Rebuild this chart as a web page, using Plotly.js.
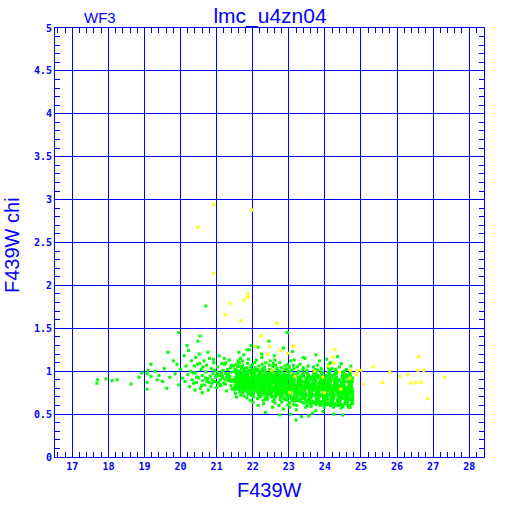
<!DOCTYPE html>
<html>
<head>
<meta charset="utf-8">
<script src="https://cdn.plot.ly/plotly-3.0.1.min.js"></script>
<style>html,body{margin:0;padding:0;background:#fff;}#chart{width:512px;height:512px;}</style>
</head>
<body>
<div id="chart"></div>
<script>
// ---- data ----
const xTickVals = [17,18,19,20,21,22,23,24,25,26,27,28];
const yTickVals = [0,0.5,1,1.5,2,2.5,3,3.5,4,4.5,5];
const yTickText = ["0","0.5","1","1.5","2","2.5","3","3.5","4","4.5","5"];

const greenX = [
// sparse left
17.68,17.70,17.93,18.10,18.24,18.63,18.85,19.07,19.10,19.18,
19.29,19.07,19.07,19.18,19.40,19.50,19.55,19.65,19.70,19.80,
19.85,19.90,19.95,19.95,20.00,20.05,20.10,20.12,20.15,20.20,
20.22,20.25,20.28,20.30,20.32,20.35,20.38,20.40,20.42,20.45,
20.48,20.54,20.70,22.97,23.20,19.62,19.35,18.92,20.18,20.36,
// medium
20.41,20.44,20.47,20.50,20.52,20.55,20.57,20.60,20.62,20.65,
20.67,20.70,20.72,20.75,20.77,20.80,20.82,20.85,20.87,20.90,
20.92,20.95,20.97,21.00,21.02,21.05,21.07,21.10,21.12,21.15,
21.17,21.20,21.22,21.25,21.27,21.30,21.32,21.35,21.37,21.40,
21.42,21.45,21.47,20.58,20.73,20.88,21.03,21.18,21.33,21.48,
20.46,20.63,20.79,20.94,21.08,21.23,21.38,20.53,20.69,20.84,
20.99,21.14,21.28,21.43,20.60,20.76,20.91,21.06,21.21,21.36,
21.01,21.09,21.16,21.24,21.31,21.39,21.46,21.13,21.26,21.41,
// dense
21.51,21.55,21.58,21.53,21.57,21.52,21.59,21.54,21.56,21.50,
21.56,21.52,21.59,21.54,21.50,21.57,21.53,21.58,21.51,21.55,
21.61,21.65,21.68,21.63,21.67,21.62,21.69,21.64,21.66,21.60,
21.66,21.62,21.69,21.64,21.60,21.67,21.63,21.68,21.61,21.65,
21.71,21.75,21.78,21.73,21.77,21.72,21.79,21.74,21.76,21.70,
21.76,21.72,21.79,21.74,21.70,21.77,21.73,21.78,21.71,21.75,
21.81,21.85,21.88,21.83,21.87,21.82,21.89,21.84,21.86,21.80,
21.86,21.82,21.89,21.84,21.80,21.87,21.83,21.88,21.81,21.85,
21.91,21.95,21.98,21.93,21.97,21.92,21.99,21.94,21.96,21.90,
21.96,21.92,21.99,21.94,21.90,21.97,21.93,21.98,21.91,21.95,
22.01,22.05,22.08,22.03,22.07,22.02,22.09,22.04,22.06,22.00,
22.06,22.02,22.09,22.04,22.00,22.07,22.03,22.08,22.01,22.05,
22.11,22.15,22.18,22.13,22.17,22.12,22.19,22.14,22.16,22.10,
22.16,22.12,22.19,22.14,22.10,22.17,22.13,22.18,22.11,22.15,
22.21,22.25,22.28,22.23,22.27,22.22,22.29,22.24,22.26,22.20,
22.26,22.22,22.29,22.24,22.20,22.27,22.23,22.28,22.21,22.25,
22.31,22.35,22.38,22.33,22.37,22.32,22.39,22.34,22.36,22.30,
22.36,22.32,22.39,22.34,22.30,22.37,22.33,22.38,22.31,22.35,
22.41,22.45,22.48,22.43,22.47,22.42,22.49,22.44,22.46,22.40,
22.46,22.42,22.49,22.44,22.40,22.47,22.43,22.48,22.41,22.45,
22.51,22.55,22.58,22.53,22.57,22.52,22.59,22.54,22.56,22.50,
22.56,22.52,22.59,22.54,22.50,22.57,22.53,22.58,22.51,22.55,
22.61,22.65,22.68,22.63,22.67,22.62,22.69,22.64,22.66,22.60,
22.66,22.62,22.69,22.64,22.60,22.67,22.63,22.68,22.61,22.65,
22.71,22.75,22.78,22.73,22.77,22.72,22.79,22.74,22.76,22.70,
22.76,22.72,22.79,22.74,22.70,22.77,22.73,22.78,22.71,22.75,
22.81,22.85,22.88,22.83,22.87,22.82,22.89,22.84,22.86,22.80,
22.86,22.82,22.89,22.84,22.80,22.87,22.83,22.88,22.81,22.85,
22.91,22.95,22.98,22.93,22.97,22.92,22.99,22.94,22.96,22.90,
22.96,22.92,22.99,22.94,22.90,22.97,22.93,22.98,22.91,22.95,
23.01,23.05,23.08,23.03,23.07,23.02,23.09,23.04,23.06,23.00,
23.06,23.02,23.09,23.04,23.00,23.07,23.03,23.08,23.01,23.05,
23.11,23.15,23.18,23.13,23.17,23.12,23.19,23.14,23.16,23.10,
23.16,23.12,23.19,23.14,23.10,23.17,23.13,23.18,23.11,23.15,
23.21,23.25,23.28,23.23,23.27,23.22,23.29,23.24,23.26,23.20,
23.26,23.22,23.29,23.24,23.20,23.27,23.23,23.28,23.21,23.25,
23.31,23.35,23.38,23.33,23.37,23.32,23.39,23.34,23.36,23.30,
23.36,23.32,23.39,23.34,23.30,23.37,23.33,23.38,23.31,23.35,
23.41,23.45,23.48,23.43,23.47,23.42,23.49,23.44,23.46,23.40,
23.46,23.42,23.49,23.44,23.40,23.47,23.43,23.48,23.41,23.45,
23.51,23.55,23.58,23.53,23.57,23.52,23.59,23.54,23.56,23.50,
23.56,23.52,23.59,23.54,23.50,23.57,23.53,23.58,23.51,23.55,
23.61,23.65,23.68,23.63,23.67,23.62,23.69,23.64,23.66,23.60,
23.66,23.62,23.69,23.64,23.60,23.67,23.63,23.68,23.61,23.65,
23.71,23.75,23.78,23.73,23.77,23.72,23.79,23.74,23.76,23.70,
23.76,23.72,23.79,23.74,23.70,23.77,23.73,23.78,23.71,23.75,
23.81,23.85,23.88,23.83,23.87,23.82,23.89,23.84,23.86,23.80,
23.86,23.82,23.89,23.84,23.80,23.87,23.83,23.88,23.81,23.85,
23.91,23.95,23.98,23.93,23.97,23.92,23.99,23.94,23.96,23.90,
23.96,23.92,23.99,23.94,23.90,23.97,23.93,23.98,23.91,23.95,
24.01,24.05,24.08,24.03,24.07,24.02,24.09,24.04,24.06,24.00,
24.06,24.02,24.09,24.04,24.00,24.07,24.03,24.08,24.01,24.05,
24.11,24.15,24.18,24.13,24.17,24.12,24.19,24.14,24.16,24.10,
24.16,24.12,24.19,24.14,24.10,24.17,24.13,24.18,24.11,24.15,
24.21,24.25,24.28,24.23,24.27,24.22,24.29,24.24,24.26,24.20,
24.26,24.22,24.29,24.24,24.20,24.27,24.23,24.28,24.21,24.25,
24.31,24.35,24.38,24.33,24.37,24.32,24.39,24.34,24.36,24.30,
24.36,24.32,24.39,24.34,24.30,24.37,24.33,24.38,24.31,24.35,
24.41,24.45,24.48,24.43,24.47,24.42,24.49,24.44,24.46,24.40,
24.46,24.42,24.49,24.44,24.40,24.47,24.43,24.48,24.41,24.45,
24.51,24.55,24.58,24.53,24.57,24.52,24.59,24.54,24.56,24.50,
24.56,24.52,24.59,24.54,24.50,24.57,24.53,24.58,24.51,24.55,
24.61,24.65,24.68,24.63,24.67,24.62,24.69,24.64,24.66,24.60,
24.66,24.62,24.69,24.64,24.60,24.67,24.63,24.68,24.61,24.65,
24.71,24.74,24.77,24.72,24.76,24.71,24.77,24.73,24.75,24.70,
24.75,24.72,24.77,24.73,24.70,24.76,24.72,24.77,24.71,24.74,
// outliers
21.62,21.95,22.25,22.60,22.85,23.10,23.40,23.75,24.05,24.35,
22.35,22.75,23.05,23.35,23.65,23.95,24.25,24.49,24.65,23.55,
22.95,23.15,21.85,22.45,23.85,24.15,24.45,22.15,23.45,24.72,
// dense core, second pass
21.53,21.58,21.51,21.56,21.54,21.59,21.52,21.57,21.55,21.50,
21.63,21.68,21.61,21.66,21.64,21.69,21.62,21.67,21.65,21.60,
21.73,21.78,21.71,21.76,21.74,21.79,21.72,21.77,21.75,21.70,
21.83,21.88,21.81,21.86,21.84,21.89,21.82,21.87,21.85,21.80,
21.93,21.98,21.91,21.96,21.94,21.99,21.92,21.97,21.95,21.90,
22.03,22.08,22.01,22.06,22.04,22.09,22.02,22.07,22.05,22.00,
22.13,22.18,22.11,22.16,22.14,22.19,22.12,22.17,22.15,22.10,
22.23,22.28,22.21,22.26,22.24,22.29,22.22,22.27,22.25,22.20,
22.33,22.38,22.31,22.36,22.34,22.39,22.32,22.37,22.35,22.30,
22.43,22.48,22.41,22.46,22.44,22.49,22.42,22.47,22.45,22.40,
22.53,22.58,22.51,22.56,22.54,22.59,22.52,22.57,22.55,22.50,
22.63,22.68,22.61,22.66,22.64,22.69,22.62,22.67,22.65,22.60,
22.73,22.78,22.71,22.76,22.74,22.79,22.72,22.77,22.75,22.70,
22.83,22.88,22.81,22.86,22.84,22.89,22.82,22.87,22.85,22.80,
22.93,22.98,22.91,22.96,22.94,22.99,22.92,22.97,22.95,22.90,
23.03,23.08,23.01,23.06,23.04,23.09,23.02,23.07,23.05,23.00,
23.13,23.18,23.11,23.16,23.14,23.19,23.12,23.17,23.15,23.10,
23.23,23.28,23.21,23.26,23.24,23.29,23.22,23.27,23.25,23.20,
23.33,23.38,23.31,23.36,23.34,23.39,23.32,23.37,23.35,23.30,
23.43,23.48,23.41,23.46,23.44,23.49,23.42,23.47,23.45,23.40,
23.53,23.58,23.51,23.56,23.54,23.59,23.52,23.57,23.55,23.50,
23.63,23.68,23.61,23.66,23.64,23.69,23.62,23.67,23.65,23.60,
23.73,23.78,23.71,23.76,23.74,23.79,23.72,23.77,23.75,23.70,
23.83,23.88,23.81,23.86,23.84,23.89,23.82,23.87,23.85,23.80,
23.93,23.98,23.91,23.96,23.94,23.99,23.92,23.97,23.95,23.90,
24.03,24.08,24.01,24.06,24.04,24.09,24.02,24.07,24.05,24.00,
24.13,24.18,24.11,24.16,24.14,24.19,24.12,24.17,24.15,24.10,
24.23,24.28,24.21,24.26,24.24,24.29,24.22,24.27,24.25,24.20,
24.33,24.38,24.31,24.36,24.34,24.39,24.32,24.37,24.35,24.30,
24.43,24.48,24.41,24.46,24.44,24.49,24.42,24.47,24.45,24.40,
24.53,24.58,24.51,24.56,24.54,24.59,24.52,24.57,24.55,24.50,
24.63,24.68,24.61,24.66,24.64,24.69,24.62,24.67,24.65,24.60,
24.73,24.77,24.71,24.76,24.74,24.77,24.72,24.75,24.75,24.70
];

const greenY = [
// sparse left
0.86,0.90,0.91,0.89,0.90,0.85,0.93,0.97,1.01,0.94,
1.00,0.79,0.87,1.08,0.95,0.88,1.03,1.22,0.93,1.12,
0.97,1.08,1.45,0.84,1.02,0.92,1.18,0.88,1.06,0.96,
1.24,0.82,1.00,1.12,0.90,0.98,1.06,0.78,1.16,0.93,
1.35,1.41,1.76,1.45,0.43,0.80,0.90,0.98,1.30,0.86,
// medium
0.98,0.87,1.08,0.92,1.20,0.80,1.02,0.95,0.89,1.12,
0.84,0.99,1.07,0.91,0.78,1.15,0.94,1.03,0.86,0.97,
1.10,0.88,0.93,0.81,1.05,0.96,1.18,0.90,0.84,1.00,
0.92,0.86,1.08,0.97,0.77,1.02,0.89,1.13,0.94,0.83,
0.99,0.90,1.06,0.83,0.88,0.90,0.86,1.01,0.97,0.88,
0.93,1.05,0.87,1.01,0.95,0.90,1.04,1.09,0.92,0.82,
0.95,1.09,0.93,0.79,0.75,1.22,1.14,0.87,1.15,0.91,
0.99,0.83,0.94,0.85,0.96,0.88,0.80,0.97,1.10,1.07,
// dense
0.92,0.80,1.05,0.87,0.97,0.74,1.12,0.90,0.84,1.00,
0.95,0.82,0.88,1.08,0.78,0.93,0.99,0.86,1.02,0.70,
0.86,0.98,0.79,1.10,0.91,0.84,1.03,0.76,0.95,0.89,
1.15,0.81,0.93,0.87,0.99,0.72,1.06,0.90,0.83,0.96,
0.94,0.83,1.01,0.77,0.89,1.07,0.86,0.92,0.71,0.98,
0.85,1.12,0.80,0.96,0.88,1.03,0.75,0.91,0.82,1.19,
0.81,0.95,0.87,1.04,0.73,0.90,0.99,0.84,1.09,0.78,
0.92,0.86,1.01,0.69,0.94,0.83,0.88,1.14,0.79,0.97,
0.90,0.76,1.02,0.85,0.97,0.81,1.08,0.88,0.72,0.93,
0.84,0.99,0.78,1.05,0.87,0.91,0.66,0.95,1.25,0.82,
0.83,0.96,0.79,0.89,1.04,0.74,0.92,0.86,1.10,0.80,
0.98,0.70,0.88,0.94,0.77,1.01,0.85,0.91,0.64,0.87,
0.88,0.75,0.99,0.82,1.06,0.91,0.78,0.95,0.85,1.13,
0.72,0.90,0.80,1.02,0.87,0.93,0.68,0.97,0.84,0.60,
0.85,0.97,0.73,0.89,1.03,0.79,0.92,0.83,1.08,0.76,
0.94,0.87,0.66,1.00,0.81,0.90,0.71,0.96,0.86,1.16,
0.79,0.91,0.84,1.05,0.70,0.95,0.87,0.76,0.99,0.82,
1.10,0.88,0.74,0.93,0.62,0.85,1.01,0.80,0.90,0.68,
0.87,0.73,0.96,0.81,1.02,0.90,0.77,0.84,1.07,0.67,
0.92,0.79,0.98,0.86,0.71,0.94,0.83,1.12,0.75,0.89,
0.82,0.94,0.76,0.88,1.00,0.70,0.91,0.79,1.05,0.85,
0.65,0.97,0.81,0.89,0.73,1.09,0.86,0.77,0.93,0.58,
0.86,0.74,0.95,0.80,1.03,0.69,0.90,0.83,0.98,0.77,
0.92,0.63,0.87,1.07,0.79,0.94,0.72,0.84,1.13,0.81,
0.80,0.92,0.71,0.87,0.99,0.76,1.04,0.84,0.67,0.90,
0.78,0.95,0.83,0.73,1.01,0.88,0.60,0.93,0.81,1.10,
0.85,0.75,0.97,0.81,0.68,0.91,1.06,0.79,0.88,0.72,
0.94,0.83,1.02,0.77,0.64,0.89,0.86,0.74,0.99,0.56,
0.78,0.90,0.70,0.86,1.00,0.82,0.74,0.95,0.66,0.88,
1.08,0.80,0.93,0.72,0.84,1.03,0.77,0.61,0.91,0.85,
0.83,0.71,0.94,0.79,0.87,1.05,0.68,0.90,0.76,0.98,
0.81,0.63,0.92,0.86,0.74,1.01,0.58,0.88,0.80,1.12,
0.79,0.91,0.73,0.85,0.67,0.97,0.82,1.03,0.76,0.88,
0.70,0.94,0.84,0.61,0.89,0.78,1.07,0.81,0.93,0.65,
0.84,0.72,0.93,0.78,1.00,0.66,0.87,0.81,0.75,0.96,
0.89,0.60,0.83,1.05,0.77,0.92,0.70,0.86,0.55,0.98,
0.77,0.89,0.69,0.83,0.95,0.73,1.02,0.80,0.64,0.91,
0.86,0.75,0.98,0.81,0.67,0.88,0.93,0.71,1.08,0.79,
0.82,0.70,0.92,0.76,0.87,0.63,0.99,0.80,0.74,1.04,
0.85,0.68,0.90,0.78,0.96,0.58,0.83,0.72,0.94,0.88,
0.80,0.91,0.68,0.85,0.74,0.97,0.62,0.88,0.79,1.01,
0.71,0.93,0.83,0.66,0.89,0.76,1.06,0.82,0.60,0.95,
0.83,0.71,0.94,0.77,0.88,0.65,1.00,0.80,0.73,0.91,
0.86,0.59,0.97,0.79,0.69,0.90,0.75,1.05,0.84,0.63,
0.78,0.89,0.67,0.84,0.96,0.72,0.81,1.02,0.61,0.92,
0.75,0.87,0.70,0.99,0.82,0.64,0.93,0.77,0.85,0.54,
0.81,0.70,0.93,0.76,0.88,0.63,0.98,0.79,0.73,1.07,
0.84,0.66,0.91,0.78,0.95,0.60,0.86,0.72,1.01,0.82,
0.79,0.90,0.68,0.85,0.74,0.96,0.62,0.87,0.81,1.03,
0.71,0.93,0.76,0.65,0.89,0.83,0.99,0.58,0.92,0.77,
0.82,0.71,0.94,0.77,0.86,0.64,0.99,0.80,0.69,0.91,
0.85,0.74,1.04,0.61,0.88,0.78,0.95,0.67,0.83,0.73,
0.77,0.88,0.66,0.83,0.95,0.72,0.81,1.01,0.60,0.90,
0.75,0.86,0.69,0.97,0.80,0.63,0.92,0.78,1.08,0.84,
0.81,0.70,0.92,0.76,0.87,0.64,0.98,0.79,0.73,1.03,
0.84,0.67,0.90,0.58,0.94,0.82,0.71,0.86,0.62,0.96,
0.79,0.89,0.68,0.84,0.74,0.97,0.63,0.86,0.80,1.02,
0.72,0.93,0.77,0.66,0.88,0.83,0.99,0.60,0.91,0.75,
0.82,0.72,0.93,0.78,0.87,0.65,0.98,0.80,0.70,0.90,
0.85,0.61,0.95,0.76,1.05,0.68,0.83,0.74,0.89,0.57,
0.78,0.88,0.67,0.84,0.96,0.73,0.81,1.00,0.62,0.91,
0.76,0.86,0.70,0.94,0.80,0.64,0.90,0.77,0.85,0.69,
0.80,0.70,0.91,0.75,0.86,0.65,0.97,0.79,0.72,1.02,
0.83,0.68,0.89,0.60,0.93,0.81,0.74,0.87,0.63,0.95,
0.77,0.87,0.69,0.82,0.73,0.94,0.64,0.85,0.79,0.99,
0.71,0.90,0.76,0.84,0.67,0.88,0.81,0.92,0.74,0.62,
// outliers
1.22,1.30,1.20,1.18,1.27,1.23,1.16,1.19,1.14,1.17,
0.52,0.49,0.50,0.47,0.51,0.53,0.50,0.49,0.58,0.48,
1.45,1.13,1.25,1.35,1.12,1.10,1.09,1.28,1.15,1.06,
// dense core, second pass
0.89,0.96,0.83,0.93,1.01,0.86,0.91,0.79,0.98,0.88,
0.92,0.85,0.97,0.88,0.80,0.94,1.00,0.87,0.90,0.83,
0.87,0.95,0.81,0.90,0.99,0.84,0.93,0.78,0.89,1.04,
0.91,0.84,0.96,0.80,0.89,1.00,0.86,0.93,0.76,0.98,
0.86,0.94,0.79,0.90,0.83,0.97,0.88,1.01,0.75,0.92,
0.89,0.82,0.95,0.78,0.91,0.86,1.00,0.84,0.93,0.72,
0.85,0.93,0.77,0.89,0.81,0.96,0.87,0.74,0.91,1.01,
0.88,0.80,0.94,0.75,0.90,0.84,0.99,0.78,0.92,0.70,
0.83,0.92,0.76,0.88,0.80,0.96,0.86,0.73,0.90,1.02,
0.86,0.79,0.93,0.74,0.89,0.82,0.97,0.77,0.91,0.69,
0.81,0.90,0.75,0.87,0.79,0.95,0.84,0.71,0.89,0.99,
0.85,0.77,0.92,0.72,0.88,0.81,0.96,0.75,0.90,0.67,
0.82,0.89,0.74,0.86,0.78,0.94,0.83,0.70,0.88,0.97,
0.80,0.87,0.73,0.90,0.77,0.84,0.95,0.69,0.86,0.76,
0.84,0.76,0.91,0.71,0.87,0.80,0.94,0.74,0.89,0.67,
0.78,0.86,0.72,0.89,0.75,0.92,0.81,0.68,0.84,0.96,
0.83,0.75,0.90,0.70,0.86,0.79,0.95,0.73,0.88,0.66,
0.77,0.85,0.71,0.88,0.74,0.91,0.80,0.67,0.83,0.94,
0.82,0.74,0.89,0.69,0.85,0.78,0.93,0.72,0.87,0.65,
0.76,0.84,0.70,0.87,0.73,0.90,0.79,0.66,0.82,0.95,
0.81,0.73,0.88,0.68,0.84,0.77,0.92,0.71,0.86,0.64,
0.75,0.83,0.69,0.86,0.72,0.89,0.78,0.65,0.81,0.93,
0.80,0.72,0.87,0.67,0.83,0.76,0.91,0.70,0.85,0.63,
0.74,0.82,0.68,0.85,0.71,0.88,0.77,0.64,0.80,0.92,
0.79,0.71,0.86,0.66,0.82,0.75,0.90,0.69,0.84,0.62,
0.73,0.81,0.67,0.84,0.70,0.87,0.76,0.63,0.79,0.91,
0.78,0.70,0.85,0.65,0.81,0.74,0.89,0.68,0.83,0.61,
0.72,0.80,0.66,0.83,0.69,0.86,0.75,0.62,0.78,0.90,
0.77,0.69,0.84,0.64,0.80,0.73,0.88,0.67,0.82,0.60,
0.71,0.79,0.65,0.82,0.68,0.85,0.74,0.61,0.77,0.89,
0.76,0.68,0.83,0.63,0.79,0.72,0.87,0.66,0.81,0.59,
0.70,0.78,0.64,0.81,0.67,0.84,0.73,0.60,0.76,0.88,
0.75,0.67,0.82,0.62,0.78,0.71,0.86,0.65,0.80,0.58
];

const yellowX = [
20.92,21.98,20.48,20.92,21.87,21.87,21.76,21.37,21.23,21.67,
22.67,22.23,22.06,22.47,22.42,22.78,22.97,23.14,24.28,24.22,
23.72,23.94,24.44,23.99,23.17,23.03,24.41,24.72,24.89,25.00,
25.33,25.05,24.25,26.60,25.80,26.08,26.30,26.58,26.74,27.32,
25.60,26.38,26.52,26.66,26.85,24.86,22.53,24.10,24.69,23.11
];
const yellowY = [
2.94,2.88,2.68,2.14,1.90,1.86,1.83,1.79,1.66,1.59,
1.56,1.41,1.29,1.29,1.20,1.24,1.21,1.29,1.25,1.17,
1.00,0.93,0.79,0.75,0.94,0.75,0.99,1.01,1.00,1.01,
1.05,0.85,1.09,1.17,0.99,0.94,0.96,1.01,1.01,0.93,
0.87,0.86,0.87,0.87,0.68,0.96,1.01,1.06,0.92,1.29
];

// ---- chart ----
const BLUE = '#0000ff';
const tickFont = {family: 'DejaVu Sans Mono', size: 10, color: BLUE, weight: 'bold'};

const traces = [
  {x: greenX, y: greenY, type: 'scatter', mode: 'markers',
   marker: {symbol: 'square', size: 3, color: '#00ff00', line: {width: 0}},
   hoverinfo: 'skip'},
  {x: yellowX, y: yellowY, type: 'scatter', mode: 'markers',
   marker: {symbol: 'square', size: 3, color: '#ffff00', line: {width: 0}},
   hoverinfo: 'skip'}
];

const layout = {
  width: 512, height: 512,
  paper_bgcolor: '#ffffff', plot_bgcolor: '#ffffff',
  margin: {l: 55, r: 28, t: 28, b: 55, pad: 0},
  showlegend: false,
  title: {text: 'lmc_u4zn04', x: 270/512, xanchor: 'center', xref: 'container',
          y: 1 - 16/512, yanchor: 'middle', yref: 'container',
          font: {family: 'Liberation Sans', size: 21, color: BLUE}},
  xaxis: {
    range: [16.52, 28.41], tickmode: 'array', tickvals: xTickVals,
    ticks: 'inside', ticklen: 0, tickcolor: BLUE,
    showgrid: true, gridcolor: BLUE, gridwidth: 1,
    showline: true, linecolor: BLUE, linewidth: 1, mirror: 'ticks',
    zeroline: false, tickfont: tickFont,
    minor: {dtick: 0.2, ticks: 'inside', ticklen: 5, tickcolor: BLUE, tickwidth: 1, showgrid: false}
  },
  yaxis: {
    range: [0, 5], tickmode: 'array', tickvals: yTickVals, ticktext: yTickText,
    ticks: 'inside', ticklen: 0, tickcolor: BLUE,
    showgrid: true, gridcolor: BLUE, gridwidth: 1,
    showline: true, linecolor: BLUE, linewidth: 1, mirror: 'ticks',
    zeroline: false, tickfont: tickFont,
    minor: {dtick: 0.1, ticks: 'inside', ticklen: 5, tickcolor: BLUE, tickwidth: 1, showgrid: false}
  },
  annotations: [
    {text: 'WF3', xref: 'paper', yref: 'paper', x: (100-55)/429, y: 1 + (28-18)/429,
     xanchor: 'center', yanchor: 'middle', showarrow: false,
     font: {family: 'Liberation Sans', size: 15, color: BLUE}},
    {text: 'F439W', xref: 'paper', yref: 'paper', x: 0.5, y: -(490-457)/429,
     xanchor: 'center', yanchor: 'middle', showarrow: false,
     font: {family: 'Liberation Sans', size: 20, color: BLUE}},
    {text: 'F439W chi', xref: 'paper', yref: 'paper', x: -(55-12)/429, y: 0.5 - (245-242.5)/429,
     xanchor: 'center', yanchor: 'middle', showarrow: false, textangle: -90,
     font: {family: 'Liberation Sans', size: 20, color: BLUE}}
  ]
};

Plotly.newPlot('chart', traces, layout, {staticPlot: true, displayModeBar: false});
</script>
</body>
</html>
